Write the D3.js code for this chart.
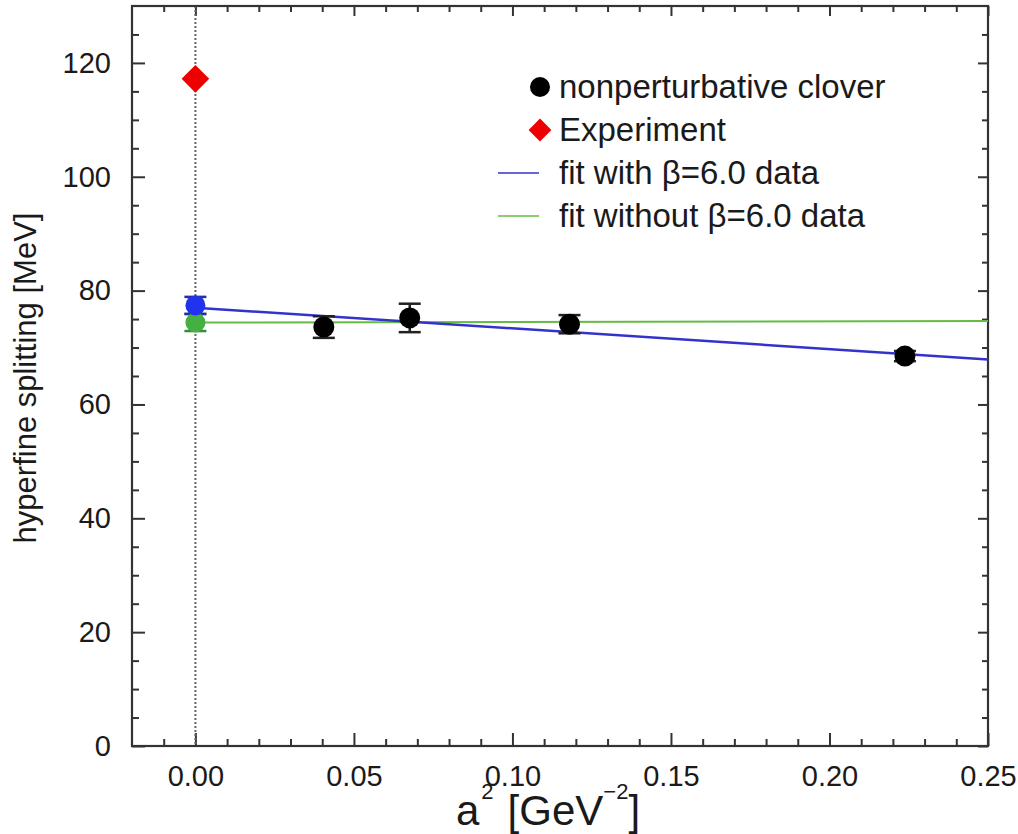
<!DOCTYPE html>
<html><head><meta charset="utf-8">
<script src="https://cdn.jsdelivr.net/npm/d3@7"></script>
<style>body{margin:0;background:#fff}svg{display:block}text{font-family:"Liberation Sans",Arial,Helvetica,sans-serif;fill:#1a1a1a}</style>
</head><body>
<script>
// Data
const cloverX = [0.0405, 0.0676, 0.118, 0.2238];
const cloverY = [73.6, 75.2, 74.1, 68.5];
const cloverErr = [1.9, 2.5, 1.6, 0.9];
const experimentX = [0];
const experimentY = [117.2];
const extrapWithX = [0], extrapWithY = [77.4], extrapWithErr = [1.5];
const extrapWithoutX = [0], extrapWithoutY = [74.4], extrapWithoutErr = [1.5];
const fitX = [0, 0.25];
const fitWithY = [77.0, 67.9];
const fitWithoutY = [74.4, 74.65];
const xMajorTicks = [0, 0.05, 0.10, 0.15, 0.20, 0.25];
const yMajorTicks = [0, 20, 40, 60, 80, 100, 120];
const legendLabels = ["nonperturbative clover", "Experiment", "fit with \u03b2=6.0 data", "fit without \u03b2=6.0 data"];

const W = 1018, H = 834;
const L = 132, R = 988, T = 6, B = 746;
const svg = d3.select("body").append("svg").attr("width", W).attr("height", H);
const x = d3.scaleLinear().domain([-0.02, 0.25]).range([L, R]);
const y = d3.scaleLinear().domain([0, 130]).range([B, T]);

const xMinor = d3.range(-1, 25).map(i => i / 100).filter(v => !xMajorTicks.some(m => Math.abs(m - v) < 1e-9));
const yMinor = d3.range(0, 130, 5).filter(v => v % 20 !== 0);

const tickCol = "#333";
function axisTicks(axisFn, scale, vals, size, tr) {
  const g = svg.append("g").attr("transform", tr)
    .call(axisFn(scale).tickValues(vals).tickSize(size).tickFormat(""));
  g.select(".domain").remove();
  g.selectAll("line").attr("stroke", tickCol).attr("stroke-width", 2);
  return g;
}
// bottom & top
axisTicks(d3.axisTop, x, xMajorTicks, 13, `translate(0,${B})`);
axisTicks(d3.axisTop, x, xMinor, 7, `translate(0,${B})`);
axisTicks(d3.axisBottom, x, xMajorTicks, 10, `translate(0,${T})`);
axisTicks(d3.axisBottom, x, xMinor, 6, `translate(0,${T})`);
// left & right
axisTicks(d3.axisRight, y, yMajorTicks, 13, `translate(${L},0)`);
axisTicks(d3.axisRight, y, yMinor, 7, `translate(${L},0)`);
axisTicks(d3.axisLeft, y, yMajorTicks, 10, `translate(${R},0)`);
axisTicks(d3.axisLeft, y, yMinor, 6, `translate(${R},0)`);

// tick labels
const xl = svg.append("g").attr("transform", `translate(0,${B})`)
  .call(d3.axisBottom(x).tickValues(xMajorTicks).tickSize(0).tickPadding(19).tickFormat(d3.format(".2f")));
xl.select(".domain").remove();
xl.selectAll("text").attr("font-size", 29).attr("font-family", null).attr("fill", "#1a1a1a");
const yl = svg.append("g").attr("transform", `translate(${L},0)`)
  .call(d3.axisLeft(y).tickValues(yMajorTicks).tickSize(0).tickPadding(21).tickFormat(d3.format("d")));
yl.select(".domain").remove();
yl.selectAll("text").attr("font-size", 29).attr("font-family", null).attr("fill", "#1a1a1a");

// dotted zero line
svg.append("line").attr("x1", x(0)).attr("x2", x(0)).attr("y1", T).attr("y2", B)
  .attr("stroke", "#666").attr("stroke-width", 2).attr("stroke-dasharray", "2,2");

// frame
svg.append("rect").attr("x", L).attr("y", T).attr("width", R - L).attr("height", B - T)
  .attr("fill", "none").attr("stroke", tickCol).attr("stroke-width", 2.2);

// fit lines
const line = d3.line().x(d => x(d[0])).y(d => y(d[1]));
svg.append("path").datum(fitX.map((v, i) => [v, fitWithoutY[i]])).attr("d", line)
  .attr("stroke", "#66bb44").attr("stroke-width", 2).attr("fill", "none");
svg.append("path").datum(fitX.map((v, i) => [v, fitWithY[i]])).attr("d", line)
  .attr("stroke", "#3333cc").attr("stroke-width", 2.5).attr("fill", "none");

function errorBars(xs, ys, es, col) {
  const g = svg.append("g").attr("stroke", col).attr("stroke-width", 2.5);
  xs.forEach((xv, i) => {
    const cx = x(xv), y1 = y(ys[i] + es[i]), y2 = y(ys[i] - es[i]);
    g.append("line").attr("x1", cx).attr("x2", cx).attr("y1", y1).attr("y2", y2);
    g.append("line").attr("x1", cx - 11).attr("x2", cx + 11).attr("y1", y1).attr("y2", y1);
    g.append("line").attr("x1", cx - 11).attr("x2", cx + 11).attr("y1", y2).attr("y2", y2);
  });
}
errorBars(extrapWithoutX, extrapWithoutY, extrapWithoutErr, "#3a8a3a");
errorBars(extrapWithX, extrapWithY, extrapWithErr, "#2a2aaa");
errorBars(cloverX, cloverY, cloverErr, "#222");

svg.append("g").selectAll("circle").data(extrapWithoutX).join("circle")
  .attr("cx", d => x(d)).attr("cy", (d, i) => y(extrapWithoutY[i])).attr("r", 10).attr("fill", "#44b044");
svg.append("g").selectAll("circle").data(extrapWithX).join("circle")
  .attr("cx", d => x(d)).attr("cy", (d, i) => y(extrapWithY[i])).attr("r", 10).attr("fill", "#2233ee");
svg.append("g").selectAll("circle").data(cloverX).join("circle")
  .attr("cx", d => x(d)).attr("cy", (d, i) => y(cloverY[i])).attr("r", 10.5).attr("fill", "#000");

const diamond = d3.symbol().type(d3.symbolSquare).size(380);
svg.append("g").selectAll("path").data(experimentX).join("path")
  .attr("d", diamond)
  .attr("transform", (d, i) => `translate(${x(d)},${y(experimentY[i])}) rotate(45)`)
  .attr("fill", "#ee0000");

// legend
const lg = svg.append("g");
const rowY = [87, 130, 173, 216];
lg.append("circle").attr("cx", 540).attr("cy", rowY[0]).attr("r", 10).attr("fill", "#000");
lg.append("path").attr("d", d3.symbol().type(d3.symbolSquare).size(260)())
  .attr("transform", `translate(540,${rowY[1]}) rotate(45)`).attr("fill", "#ee0000");
lg.append("line").attr("x1", 498).attr("x2", 539).attr("y1", rowY[2]).attr("y2", rowY[2])
  .attr("stroke", "#3333cc").attr("stroke-width", 1.5);
lg.append("line").attr("x1", 498).attr("x2", 539).attr("y1", rowY[3]).attr("y2", rowY[3])
  .attr("stroke", "#66bb44").attr("stroke-width", 1.5);
legendLabels.forEach((t, i) => {
  lg.append("text").attr("x", 559).attr("y", rowY[i] + 11).attr("font-size", 33).text(t);
});

// axis titles
svg.append("text").attr("transform", `translate(36,378) rotate(-90)`)
  .attr("text-anchor", "middle").attr("font-size", 31).text("hyperfine splitting [MeV]");

const xt = svg.append("text").attr("x", 456).attr("y", 825).attr("font-size", 42);
xt.append("tspan").text("a");
xt.append("tspan").attr("font-size", 22).attr("dy", -26).attr("dx", 2).text("2");
xt.append("tspan").attr("dy", 26).attr("dx", 14).text("[GeV");
xt.append("tspan").attr("font-size", 22).attr("dy", -26).text("\u22122");
xt.append("tspan").attr("dy", 26).text("]");
</script>
</body></html>
